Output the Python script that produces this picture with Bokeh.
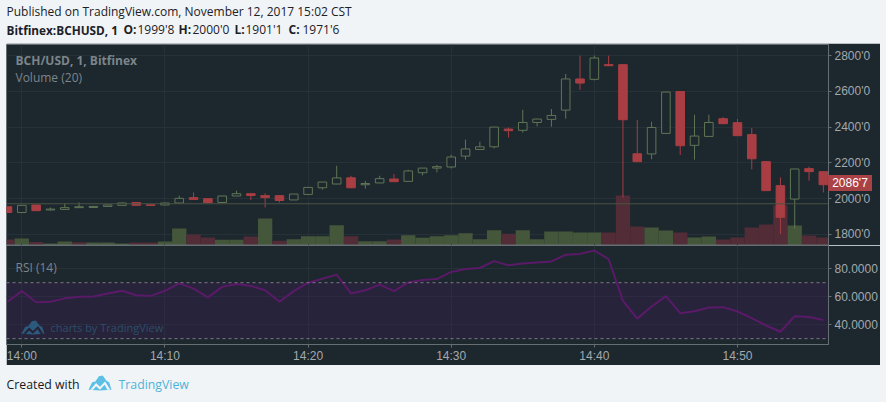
from bokeh.plotting import figure
from bokeh.layouts import column
from bokeh.models import (Range1d, FixedTicker, Label, BoxAnnotation, PolyAnnotation,
                          ColumnDataSource, Span, Div)
from bokeh.embed import file_html
from bokeh.resources import INLINE

minutes = list(range(-1, 57))
opens = [1955,1923,1965,1937,1940,1950,1951,1957,1963,1979,1966,1965,1976,2006,2000,1979,2015,2028,2017,2017,1993,2024,2061,2082,2117,2078,2088,2110,2097,2145,2171,2177,2238,2275,2290,2389,2382,2426,2443,2495,2669,2667,2749,2749,2251,2250,2365,2599,2298,2348,2447,2425,2358,2207,2073,1998,2168,2151]
closes = [1923,1963,1933,1942,1950,1955,1957,1965,1976,1963,1962,1976,2002,1996,1978,2015,2028,2018,2006,1990,2026,2063,2093,2116,2061,2085,2112,2095,2155,2171,2179,2233,2278,2290,2400,2380,2426,2445,2465,2669,2646,2786,2743,2441,2207,2398,2596,2296,2350,2426,2419,2352,2223,2045,1896,2166,2151,2078]
highs = [1955,1965,1965,1951,1976,1979,1958,1966,1977,1979,1966,1977,2017,2035,2000,2016,2045,2028,2030,2017,2027,2064,2094,2184,2128,2100,2128,2138,2162,2172,2188,2246,2330,2318,2401,2398,2497,2446,2501,2697,2799,2800,2799,2749,2440,2430,2597,2599,2469,2469,2456,2445,2395,2208,2119,2167,2179,2151]
lows = [1923,1923,1933,1933,1939,1948,1950,1956,1963,1963,1962,1964,1975,1994,1975,1978,2015,1993,1951,1979,1992,2023,2050,2081,2058,2056,2087,2095,2096,2130,2147,2169,2218,2275,2281,2342,2369,2404,2402,2447,2609,2661,2742,2007,2207,2220,2365,2244,2218,2347,2418,2351,2164,2044,1803,1831,2101,2035]
volumes = [5,6,2.5,1,3,2.3,2,2,1,2,2,3,16,10,7,4.7,4.7,8,26,3.7,5.3,8.3,8.3,19.3,8.3,3.3,3.3,5,9.3,6.7,8.3,9.3,11.3,5.3,14.3,10.7,14.3,5.3,13,13,12,12,12,49,18,17,14,12,7,8,5,7,17,20,39,19,9,7]
vol_dir = ["d","u","d","u","u","d","u","u","u","d","d","u","u","d","d","u","u","d","u","d","u","u","u","u","d","u","u","d","u","u","u","u","u","u","u","d","u","u","u","u","u","u","d","d","d","u","u","d","u","u","d","d","d","d","d","u","d","d"]
rsi = [56.4,64,56,56.4,58.8,60,60.2,62.3,64.2,61,60.4,64.2,69.5,65.8,59.5,67,69,67.7,64.6,56.4,64,70,72.8,75.8,62.3,64.6,68.6,64,70.2,72,72.6,77.7,79.8,80.5,85.4,82.4,83.8,84.5,85.2,90,90.6,93,86.8,57,44.3,53,60.4,48.2,49.6,52.2,52.5,49.4,44.7,39.4,34.9,46,45.4,43.3]
price_ticks = [1800,2000,2200,2400,2600,2800]
rsi_ticks = [40,60,80]
time_ticks = {0:"14:00",10:"14:10",20:"14:20",30:"14:30",40:"14:40",50:"14:50"}
last_close = 1971.6
last_price_text = "2086'7"

PAGE = "#f1f4f7"; DARK = "#1d272e"; GRID = "#263138"; AX = "#646e73"; TXT = "#a3a9ad"
UP = "#5f7656"; DOWN = "#a83e43"; VUP = "#44573b"; VDOWN = "#522c36"; TAG = "#a94146"

def lab(p, x, y, text, size="12px", color="#1c2126", style="normal", font="Open Sans", **kw):
    l = Label(x=x, y=y, x_units="canvas", y_units="canvas", text=text, text_font=font,
              text_font_size=size, text_color=color, text_font_style=style,
              text_baseline="middle", **kw)
    p.add_layout(l)
    return l

def logo(p, x, y, w, h, col, hole):
    cloud = [(0,.95),(.16,.45),(.3,.4),(.45,.05),(.62,0),(.78,.35),(.9,.45),(1,.95),(.5,1)]
    p.add_layout(PolyAnnotation(xs=[x+a*w for a,b in cloud], ys=[y+b*h for a,b in cloud],
                                xs_units="canvas", ys_units="canvas", fill_color=col, fill_alpha=1,
                                line_color=col, line_alpha=0))
    zig = [(.08,.95),(.33,.5),(.5,.75),(.72,.4),(.95,.95),(.82,.95),(.7,.62),(.5,.95),(.33,.72),(.2,.95)]
    p.add_layout(PolyAnnotation(xs=[x+a*w for a,b in zig], ys=[y+b*h for a,b in zig],
                                xs_units="canvas", ys_units="canvas", fill_color=hole, fill_alpha=1,
                                line_color=hole, line_alpha=0))

def strip(w, h, bg=PAGE, **kw):
    f = figure(width=w, height=h, x_range=Range1d(0, w), y_range=Range1d(0, h),
               output_backend="svg", toolbar_location=None, min_border=0,
               background_fill_color=bg, border_fill_color=bg, outline_line_color=None, **kw)
    f.axis.visible = False
    f.grid.visible = False
    return f

def style_axis(a, tick=3, standoff=3):
    a.axis_line_color = AX; a.major_tick_line_color = AX; a.minor_tick_line_color = None
    a.major_tick_in = 0; a.major_tick_out = tick
    a.major_label_text_color = TXT; a.major_label_text_font = "Liberation Sans"
    a.major_label_text_font_size = "12px"; a.major_label_standoff = standoff

xr = Range1d(-1.07, 56.36)

# ---------- header
head = strip(886, 43)
lab(head, 6, 11, "Published on TradingView.com, November 12, 2017 15:02 CST")
lab(head, 6, 29, "Bitfinex:BCHUSD, 1", style="bold", size="11.8px")
for x, t, s in [(123,"O:","bold"),(137,"1999'8","normal"),(178,"H:","bold"),(192,"2000'0","normal"),
                (234,"L:","bold"),(245,"1901'1","normal"),(288,"C:","bold"),(302,"1971'6","normal")]:
    lab(head, x, 29, t, style=s)

# ---------- price + volume pane
main = figure(width=874, height=202, x_range=xr, y_range=Range1d(1738.5, 2861.5),
              output_backend="svg", toolbar_location=None, y_axis_location="right", margin=(0, 6, 0, 6),
              min_border_left=0, min_border_right=51, min_border_top=1, min_border_bottom=0,
              background_fill_color=DARK, border_fill_color=DARK, outline_line_color=AX)
main.xaxis.visible = False
main.extra_y_ranges = {"vol": Range1d(-1, 200)}
main.xgrid.ticker = FixedTicker(ticks=list(time_ticks))
main.xgrid.grid_line_color = GRID
main.ygrid.grid_line_color = GRID
ya = main.yaxis[0]
ya.ticker = FixedTicker(ticks=price_ticks)
ya.major_label_overrides = {t: f"{t}'0" for t in price_ticks}
style_axis(ya)

d = dict(x=minutes, o=opens, c=closes, h=highs, l=lows, v=volumes,
         vc=[VUP if s == "u" else VDOWN for s in vol_dir],
         top=[max(a, b) for a, b in zip(opens, closes)], bot=[min(a, b) for a, b in zip(opens, closes)],
         col=[UP if b >= a else DOWN for a, b in zip(opens, closes)],
         fill=[DARK if b >= a else DOWN for a, b in zip(opens, closes)])
src = ColumnDataSource(d)
main.vbar(x="x", width=1.0, bottom=0, top="v", fill_color="vc", line_color=None, y_range_name="vol", source=src)
main.add_layout(Span(location=last_close, dimension="width", line_color="#4a5444", line_width=1))
main.segment(x0="x", x1="x", y0="l", y1="h", line_color="col", line_width=1, source=src)
main.vbar(x="x", width=0.6, bottom="bot", top="top", fill_color="fill", line_color="col", line_width=1, source=src)

lab(main, 9, 17, "BCH/USD, 1, Bitfinex", color="#7b858a", style="bold")
lab(main, 9, 34, "Volume (20)", color="#7b858a")

# ---------- RSI pane
pr = figure(width=874, height=120, x_range=xr, y_range=Range1d(25.8, 96.6),
            output_backend="svg", toolbar_location=None, y_axis_location="right", margin=(0, 6, 0, 6),
            min_border_left=0, min_border_right=51, min_border_top=0, min_border_bottom=19,
            background_fill_color=DARK, border_fill_color=DARK, outline_line_color=AX)
pr.xgrid.ticker = FixedTicker(ticks=list(time_ticks))
pr.xgrid.grid_line_color = GRID; pr.ygrid.grid_line_color = GRID
ra = pr.yaxis[0]
ra.ticker = FixedTicker(ticks=rsi_ticks)
ra.major_label_overrides = {t: f"{t}.0000" for t in rsi_ticks}
style_axis(ra)
xa = pr.xaxis[0]
xa.ticker = FixedTicker(ticks=list(time_ticks))
xa.major_label_overrides = dict(time_ticks)
style_axis(xa, tick=3, standoff=1)

pr.add_layout(BoxAnnotation(bottom=30, top=70, fill_color="#3a1f52", fill_alpha=0.36, line_alpha=0, level="underlay"))
for lv in (30, 70):
    pr.add_layout(Span(location=lv, dimension="width", line_color="#7f7488", line_width=1, line_dash="3 3"))
pr.line(minutes, rsi, line_color="#5a1a68", line_width=2)

lab(pr, 9, 22, "RSI (14)", color="#7b858a")
logo(pr, 15, 75, 23, 14, "#2b5a7c", "#262237")
lab(pr, 44, 82, "charts by TradingView", color="#2b4f69", size="11px")

# ---------- footer
foot = strip(886, 37)
lab(foot, 6, 19, "Created with", size="12.3px", color="#141a1f")
logo(foot, 88, 10, 23, 15, "#5cc0e4", PAGE)
lab(foot, 118, 19, "TradingView", size="12.3px", color="#4eb3d9")

# ---------- last-price tag over the price axis
tag = Div(text=last_price_text, width=44, height=16, margin=0,
          styles={"position": "absolute", "left": "828px", "top": "175px", "background-color": TAG,
                  "color": "#ffffff", "font-family": "Liberation Sans", "font-size": "12px",
                  "line-height": "16px", "text-align": "center"})

p = column(head, main, pr, foot, tag, spacing=0, width=886, height=402,
           styles={"position": "fixed", "left": "0px", "top": "0px", "background-color": PAGE})
open("out.html", "w").write(file_html(p, INLINE))
